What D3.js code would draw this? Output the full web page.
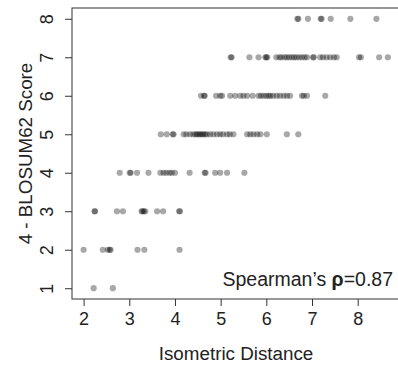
<!DOCTYPE html>
<html>
<head>
<meta charset="utf-8">
<script src="https://cdn.jsdelivr.net/npm/d3@7"></script>
<style>
  html, body { margin: 0; padding: 0; background: #fff; }
  #chart { width: 398px; height: 368px; }
  text { font-family: "Liberation Sans", Arial, Helvetica, sans-serif; fill: #222; }
</style>
</head>
<body>
<div id="chart"></div>
<script>
// Isometric distance vs 4 - BLOSUM62 score, one array per score level
const score8 = [6.68, 6.70, 6.91, 7.19, 7.21, 7.41, 7.84, 8.41];
const score7 = [5.22, 5.24, 5.63, 5.83, 5.98, 6.00, 6.02, 6.22, 6.29, 6.33, 6.40, 6.45, 6.50,
  6.56, 6.61, 6.66, 6.72, 6.78, 6.84, 6.89, 7.02, 7.04, 7.18, 7.24, 7.32, 7.40, 7.48, 7.54,
  8.03, 8.07, 8.47, 8.66];
const score6 = [4.57, 4.64, 4.65, 4.90, 4.99, 5.03, 5.21, 5.32, 5.43, 5.50, 5.58, 5.70, 5.83,
  5.88, 5.94, 6.00, 6.05, 6.09, 6.15, 6.23, 6.30, 6.38, 6.45, 6.52, 6.78, 6.82, 6.89, 7.29];
const score5 = [3.69, 3.82, 3.95, 3.97, 4.19, 4.25, 4.33, 4.40, 4.45, 4.48, 4.52, 4.55, 4.59,
  4.62, 4.66, 4.70, 4.77, 4.84, 4.92, 4.99, 5.05, 5.14, 5.20, 5.28, 5.58, 5.65, 5.72, 5.80,
  5.87, 6.01, 6.45, 6.70];
const score4 = [2.79, 3.01, 3.03, 3.17, 3.42, 3.68, 3.75, 3.81, 3.88, 3.93, 4.00, 4.32, 4.65,
  4.67, 4.88, 4.99, 5.14, 5.52];
const score3 = [2.24, 2.25, 2.73, 2.86, 3.27, 3.29, 3.32, 3.35, 3.61, 3.74, 4.09, 4.11];
const score2 = [2.00, 2.42, 2.53, 2.57, 2.59, 3.18, 3.33, 4.10];
const score1 = [2.22, 2.64];

const scoreLevels = [8, 7, 6, 5, 4, 3, 2, 1];
const scoreSeries = [score8, score7, score6, score5, score4, score3, score2, score1];

const xTicks = [2, 3, 4, 5, 6, 7, 8];
const yTicks = [1, 2, 3, 4, 5, 6, 7, 8];
const xDomain = [1.746, 8.97];
const yDomain = [0.72, 8.28];

function renderScatter(containerId) {
  const container = d3.select(`#${containerId}`);
  container.selectAll("*").remove();

  const width = 398, height = 368;
  const svg = container.append("svg")
    .attr("width", width)
    .attr("height", height);

  const x = d3.scaleLinear().domain(xDomain).range([72, 402]);
  const y = d3.scaleLinear().domain(yDomain).range([299, 8]);

  const points = [];
  scoreSeries.forEach((xs, i) => {
    xs.forEach(v => points.push({ dist: v, score: scoreLevels[i] }));
  });

  // points (semi transparent black, overlap gets darker)
  svg.append("g")
    .selectAll("circle")
    .data(points)
    .join("circle")
    .attr("cx", d => x(d.dist))
    .attr("cy", d => y(d.score))
    .attr("r", 3.1)
    .attr("fill", "rgba(0,0,0,0.34)");

  // plot box
  svg.append("rect")
    .attr("x", x(xDomain[0]))
    .attr("y", y(yDomain[1]))
    .attr("width", x(xDomain[1]) - x(xDomain[0]))
    .attr("height", y(yDomain[0]) - y(yDomain[1]))
    .attr("fill", "none")
    .attr("stroke", "#333")
    .attr("stroke-width", 1);

  // x axis
  const gx = svg.append("g")
    .attr("transform", `translate(0,${y(yDomain[0])})`)
    .call(d3.axisBottom(x).tickValues(xTicks).tickSize(7).tickPadding(6).tickFormat(d3.format("d")));
  gx.select(".domain").remove();
  gx.selectAll("line").attr("stroke", "#333");
  gx.selectAll("text").style("font-size", "18px").attr("fill", "#222");

  // y axis, labels parallel to the axis like R
  const gy = svg.append("g")
    .attr("transform", `translate(${x(xDomain[0])},0)`)
    .call(d3.axisLeft(y).tickValues(yTicks).tickSize(7).tickFormat(d3.format("d")));
  gy.select(".domain").remove();
  gy.selectAll("line").attr("stroke", "#333");
  gy.selectAll("text")
    .style("font-size", "18px")
    .attr("fill", "#222")
    .attr("x", null)
    .attr("text-anchor", "middle")
    .attr("transform", "translate(-25,0) rotate(-90)")
    .attr("y", 0)
    .attr("dy", "0.35em");

  // axis titles
  svg.append("text")
    .attr("x", 236)
    .attr("y", 360)
    .attr("text-anchor", "middle")
    .style("font-size", "18.8px")
    .text("Isometric Distance");

  svg.append("text")
    .attr("transform", `translate(32,${(y(yDomain[0]) + y(yDomain[1])) / 2}) rotate(-90)`)
    .attr("text-anchor", "middle")
    .style("font-size", "18.8px")
    .text("4 - BLOSUM62 Score");

  // correlation note
  const note = svg.append("text")
    .attr("x", 393)
    .attr("y", 286)
    .attr("text-anchor", "end")
    .style("font-size", "19.5px");
  note.append("tspan").text("Spearman\u2019s ");
  note.append("tspan").style("font-weight", "bold").text("\u03c1");
  note.append("tspan").text("=0.87");
}

document.addEventListener("DOMContentLoaded", () => {
  renderScatter("chart");
});
</script>
</body>
</html>
